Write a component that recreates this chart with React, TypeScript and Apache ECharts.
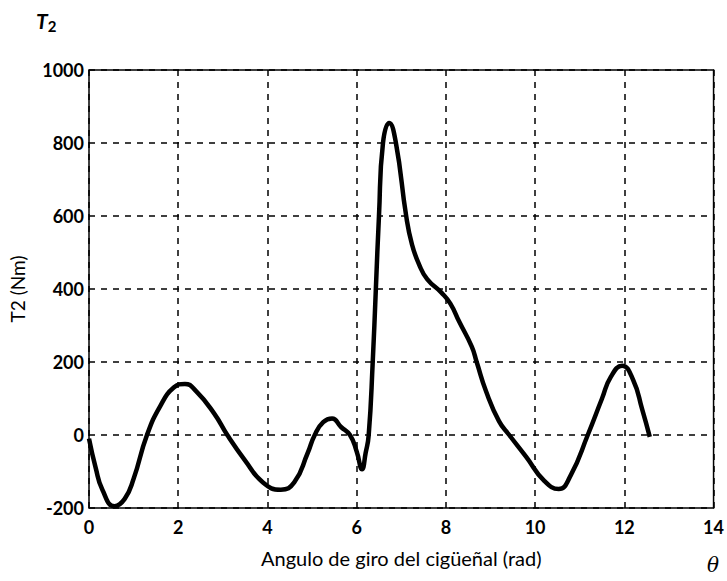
import React, { useEffect, useRef } from "react";
import * as echarts from "echarts";

const thetaValues = [
  0, 0.15, 0.3, 0.57, 0.8, 1.0, 1.3, 1.6, 1.9, 2.15, 2.4, 2.8, 3.1, 3.5, 3.9, 4.3,
  4.6, 4.9, 5.06, 5.25, 5.45, 5.65, 5.85, 6.0, 6.12, 6.2, 6.27, 6.36, 6.43, 6.5, 6.59, 6.73,
  6.88, 7.11, 7.24, 7.4, 7.58, 7.9, 8.1, 8.3, 8.58, 8.69, 8.9, 9.19, 9.42, 9.8,
  10.2, 10.53, 10.8, 11.18, 11.5, 11.7, 11.95, 12.2, 12.4, 12.57,
];
const torqueValues = [
  -10, -90, -150, -195, -175, -120, 0, 80, 130, 140, 120, 60, 0, -70, -130, -150,
  -130, -50, 0, 35, 45, 22, 0, -45, -94, -50, 0, 200, 400, 600, 800, 855,
  800, 600, 522, 467, 427, 390, 360, 310, 242, 200, 120, 38, 0, -60,
  -125, -148, -110, 0, 100, 160, 190, 150, 70, -5,
];
const xTicks = [0, 2, 4, 6, 8, 10, 12, 14];
const yTicks = [-200, 0, 200, 400, 600, 800, 1000];

export default function App() {
  const ref = useRef<HTMLDivElement>(null);
  useEffect(() => {
    document.body.style.margin = "0";
    if (!ref.current) return;
    const chart = echarts.init(ref.current, null, { renderer: "svg" });
    const data = thetaValues.map((x, i) => [x, torqueValues[i]]);
    const font = "Lato";
    chart.setOption({
      animation: false,
      backgroundColor: "#fff",
      grid: {
        left: 82,
        right: 12,
        top: 70,
        bottom: 73,
        show: true,
        borderColor: "#000",
        borderWidth: 1.5,
        backgroundColor: "transparent",
      },
      xAxis: {
        type: "value",
        min: xTicks[0],
        max: xTicks[xTicks.length - 1],
        interval: 2,
        name: "Angulo de giro del cigüeñal (rad)",
        nameLocation: "middle",
        nameGap: 40,
        nameTextStyle: { fontFamily: font, fontSize: 20, color: "#000" },
        axisLine: { show: false },
        axisTick: { show: false },
        axisLabel: {
          margin: 10,
          fontFamily: font,
          fontSize: 18,
          fontWeight: "bold",
          color: "#000",
        },
        splitLine: {
          show: true,
          lineStyle: { color: "#000", width: 1.5, type: [6, 6] },
        },
      },
      yAxis: {
        type: "value",
        min: yTicks[0],
        max: yTicks[yTicks.length - 1],
        interval: 200,
        name: "T2 (Nm)",
        nameLocation: "middle",
        nameGap: 62,
        nameTextStyle: { fontFamily: font, fontSize: 19, color: "#000" },
        axisLine: { show: false },
        axisTick: { show: false },
        axisLabel: {
          margin: 5,
          fontFamily: font,
          fontSize: 18,
          fontWeight: "bold",
          color: "#000",
          formatter: (v: number) => String(v),
        },
        splitLine: {
          show: true,
          lineStyle: { color: "#000", width: 1.5, type: [6, 6] },
        },
      },
      graphic: [
        {
          type: "text",
          left: 36,
          top: 10,
          style: {
            text: "{a|T}{b|2}",
            rich: {
              a: { fontFamily: font, fontSize: 21, fontStyle: "italic", fontWeight: "bold", fill: "#000" },
              b: { fontFamily: font, fontSize: 15, fontWeight: "bold", fill: "#000", verticalAlign: "bottom", padding: [10, 0, 0, 0] },
            },
          },
        },
        {
          type: "text",
          left: 707,
          top: 555,
          style: {
            text: "θ",
            fontFamily: "DejaVu Serif",
            fontSize: 20,
            fontStyle: "italic",
            fill: "#000",
          },
        },
      ],
      series: [
        {
          type: "line",
          data,
          smooth: 0.5,
          showSymbol: false,
          lineStyle: { color: "#000", width: 4.5 },
          z: 5,
        },
      ],
    });
    return () => chart.dispose();
  }, []);
  return <div ref={ref} style={{ width: 727, height: 581 }} />;
}
